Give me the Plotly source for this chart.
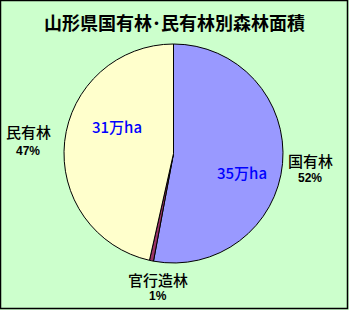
import plotly.graph_objects as go

title = "山形県国有林･民有林別森林面積"
categories = ["国有林", "官行造林", "民有林"]
area_values = [35.3, 0.4, 31.0]  # 万ha (approx.)
percent_labels = ["52%", "1%", "47%"]
area_labels = ["35万ha", None, "31万ha"]
colors = ["#9999FF", "#993366", "#FFFFCC"]

W, H = 349, 310
fig = go.Figure(go.Pie(
    labels=categories, values=area_values, sort=False, direction="clockwise",
    rotation=0, marker=dict(colors=colors, line=dict(color="black", width=1)),
    textinfo="none", hoverinfo="skip", showlegend=False,
    domain=dict(x=[62/W, 285/W], y=[1-263/H, 1-44/H]),
))

font_jp = "Noto Sans CJK JP, sans-serif"
anns = []
anns.append(dict(text=title, x=174/W, y=1-22/H,
                 font=dict(size=18, color="black", family=font_jp, weight="bold")))
label_pos = [(310, 160, 178), (158, 279, 296), (28, 131, 151)]
for cat, p, (lx, ly1, ly2) in zip(categories, percent_labels, label_pos):
    anns.append(dict(text=cat, x=lx/W, y=1-ly1/H,
                     font=dict(size=15, color="black", family=font_jp, weight=500)))
    anns.append(dict(text=f"<b>{p}</b>", x=lx/W, y=1-ly2/H,
                     font=dict(size=12, color="black", family="Liberation Sans, sans-serif")))
area_pos = [(242, 172), None, (117, 126)]
for a, pos in zip(area_labels, area_pos):
    if a and pos:
        anns.append(dict(text=a, x=pos[0]/W, y=1-pos[1]/H,
                         font=dict(size=15, color="#0000FF", family=font_jp, weight=500)))
for a in anns:
    a.update(xref="paper", yref="paper", showarrow=False, xanchor="center", yanchor="middle")

fig.update_layout(
    width=W, height=H, margin=dict(l=0, r=0, t=0, b=0),
    paper_bgcolor="#CCFFCC", plot_bgcolor="#CCFFCC",
    annotations=anns,
    shapes=[dict(type="rect", xref="paper", yref="paper", x0=0.5/W, y0=1.5/H, x1=1-1.5/W, y1=1-0.5/H,
                 line=dict(color="black", width=1.5))],
)
fig.write_html("out.html")
